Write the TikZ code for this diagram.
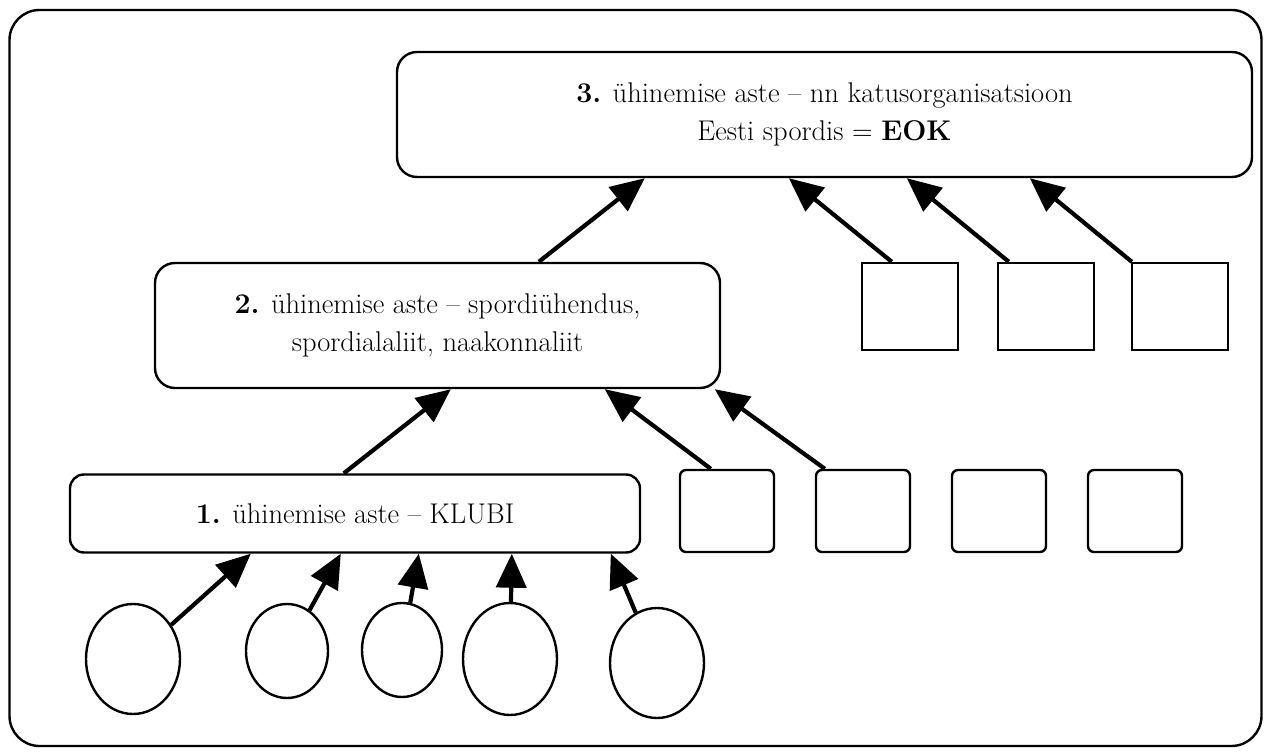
\documentclass[tikz,border=0pt]{standalone}
\usetikzlibrary{arrows.meta,calc,shapes.geometric}
\begin{document}
\begin{tikzpicture}[x=1pt,y=-1pt,
  txt/.style={font=\fontsize{28.5}{37.5}\selectfont},
  level/.style={draw,line width=2.4pt,align=center,inner sep=0pt,txt},
  unit/.style={draw,line width=2.4pt,inner sep=0pt},
  member/.style={draw,ellipse,line width=2.4pt,inner sep=0pt},
  arr/.style={line width=4.2pt,-{Triangle[length=34pt,width=30pt]}},
]
\useasboundingbox (0,0) rectangle (1267,754);
% outer frame
\node[draw,line width=2.4pt,rounded corners=30pt,minimum width=1252pt,minimum height=736pt] (frame) at (635.5,378) {};

% association levels
\node[level,rounded corners=20pt,minimum width=855pt,minimum height=125pt] (b3) at (824.5,114.5)
  {\textbf{3.} ühinemise aste – nn katusorganisatsioon\\ Eesti spordis = \textbf{EOK}};
\node[level,rounded corners=20pt,minimum width=565pt,minimum height=125pt] (b2) at (437.5,325.5)
  {\textbf{2.} ühinemise aste – spordiühendus,\\ spordialaliit, naakonnaliit};
\node[level,rounded corners=14pt,minimum width=570pt,minimum height=78pt] (b1) at (355,513.5)
  {\textbf{1.} ühinemise aste – KLUBI};

% other associations under the umbrella organisation
\node[unit,minimum width=96pt,minimum height=87pt] (u1) at (910,306.5) {};
\node[unit,minimum width=96pt,minimum height=87pt] (u2) at (1046,306.5) {};
\node[unit,minimum width=96pt,minimum height=87pt] (u3) at (1180,306.5) {};

% other clubs
\node[unit,rounded corners=6pt,minimum width=94pt,minimum height=82pt] (k1) at (727,511) {};
\node[unit,rounded corners=6pt,minimum width=94pt,minimum height=82pt] (k2) at (863,511) {};
\node[unit,rounded corners=6pt,minimum width=94pt,minimum height=82pt] (k3) at (999,511) {};
\node[unit,rounded corners=6pt,minimum width=94pt,minimum height=82pt] (k4) at (1135,511) {};

% members
\node[member,minimum width=94pt,minimum height=110pt] (m1) at (133,659) {};
\node[member,minimum width=82pt,minimum height=94pt] (m2) at (287,651) {};
\node[member,minimum width=80pt,minimum height=94pt] (m3) at (402,650) {};
\node[member,minimum width=94pt,minimum height=112pt] (m4) at (510,659) {};
\node[member,minimum width=94pt,minimum height=110pt] (m5) at (657,663) {};

% arrow targets on the lower edges
\coordinate (t11) at ($(b1.south west)+(182,0)$);
\coordinate (t12) at ($(b1.south west)+(272,0)$);
\coordinate (t13) at ($(b1.south west)+(350,0)$);
\coordinate (t14) at ($(b1.south west)+(443,0)$);
\coordinate (t15) at ($(b1.south west)+(542,0)$);
\coordinate (t21) at ($(b2.south west)+(297,0)$);
\coordinate (t22) at ($(b2.south west)+(451,0)$);
\coordinate (t23) at ($(b2.south west)+(561,0)$);
\coordinate (t31) at ($(b3.south west)+(249,0)$);
\coordinate (t32) at ($(b3.south west)+(393,0)$);
\coordinate (t33) at ($(b3.south west)+(511,0)$);
\coordinate (t34) at ($(b3.south west)+(634,0)$);

% members join the club
\draw[arr] (m1) -- (t11);
\draw[arr] (m2) -- (t12);
\draw[arr] (m3) -- (t13);
\draw[arr] (m4) -- (t14);
\draw[arr] (m5) -- (t15);

% clubs join the sport association
\draw[arr] ($(b1.north west)+(275,0)$) -- (t21);
\draw[arr] ($(k1.north west)+(32,0)$) -- (t22);
\draw[arr] ($(k2.north west)+(10,0)$) -- (t23);

% associations join the umbrella organisation
\draw[arr] ($(b2.north west)+(385,0)$) -- (t31);
\draw[arr] ($(u1.north west)+(31,0)$) -- (t32);
\draw[arr] ($(u2.north west)+(12,0)$) -- (t33);
\draw[arr] ($(u3.north west)+(1,0)$) -- (t34);
\end{tikzpicture}
\end{document}
